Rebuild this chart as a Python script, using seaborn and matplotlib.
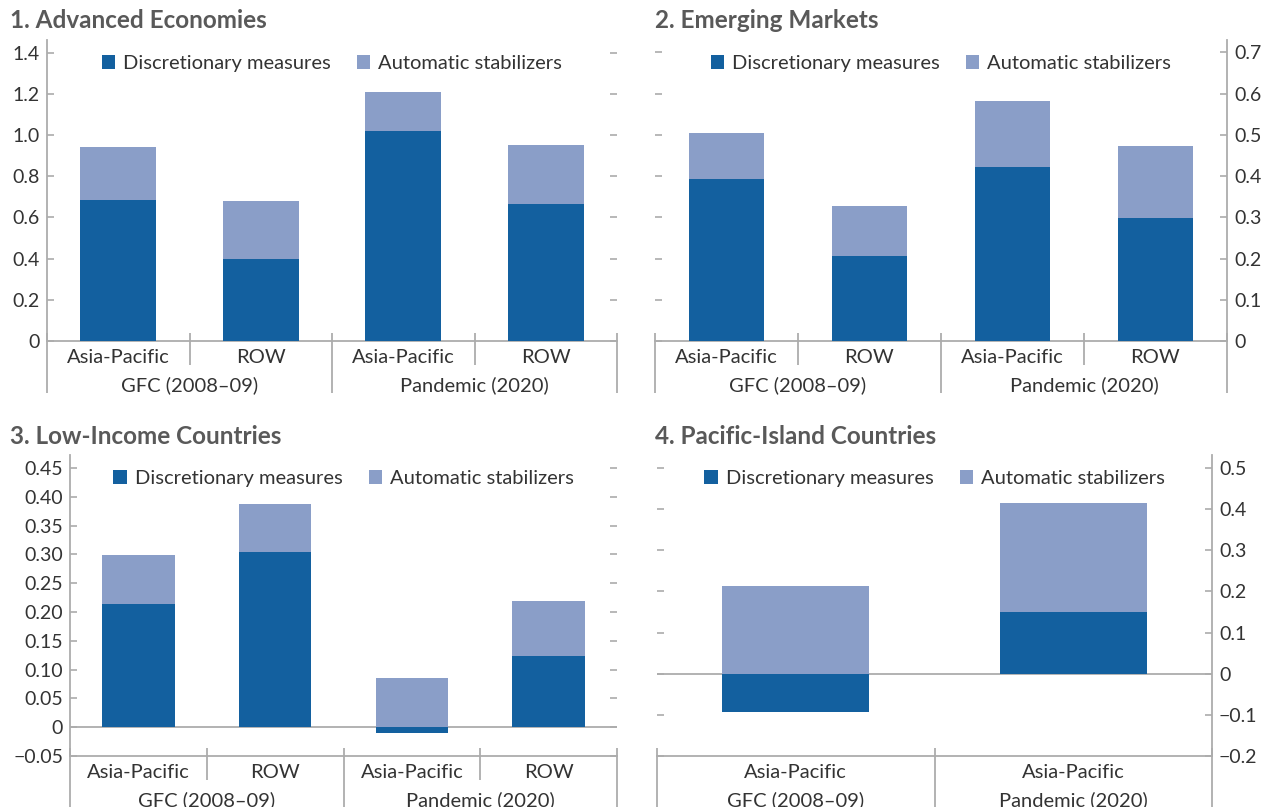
import numpy as np
import matplotlib
matplotlib.use("Agg")
import matplotlib.pyplot as plt
from matplotlib.patches import Patch
import seaborn as sns

# ---- data -----------------------------------------------------------------
titles = ["1. Advanced Economies", "2. Emerging Markets",
          "3. Low-Income Countries", "4. Pacific-Island Countries"]

regions_4 = ["Asia-Pacific", "ROW", "Asia-Pacific", "ROW"]
periods_4 = ["GFC (2008\u201309)", "GFC (2008\u201309)", "Pandemic (2020)", "Pandemic (2020)"]
regions_2 = ["Asia-Pacific", "Asia-Pacific"]
periods_2 = ["GFC (2008\u201309)", "Pandemic (2020)"]

ae_discretionary = [0.685, 0.40, 1.02, 0.665]
ae_automatic = [0.258, 0.28, 0.19, 0.287]

em_discretionary = [0.394, 0.207, 0.423, 0.299]
em_automatic = [0.110, 0.121, 0.158, 0.173]

lic_discretionary = [0.214, 0.304, -0.010, 0.123]
lic_automatic = [0.085, 0.083, 0.085, 0.096]

pic_discretionary = [-0.094, 0.149]
pic_automatic = [0.214, 0.266]

ae_ticks = [0, 0.2, 0.4, 0.6, 0.8, 1.0, 1.2, 1.4]
em_ticks = [0, 0.1, 0.2, 0.3, 0.4, 0.5, 0.6, 0.7]
lic_ticks = [-0.05, 0, 0.05, 0.10, 0.15, 0.20, 0.25, 0.30, 0.35, 0.40, 0.45]
pic_ticks = [-0.2, -0.1, 0, 0.1, 0.2, 0.3, 0.4, 0.5]

legend_labels = ["Discretionary measures", "Automatic stabilizers"]

# ---- style ----------------------------------------------------------------
sns.set_theme(style="white")
plt.rcParams["font.family"] = ["Lato", "DejaVu Sans"]

DARK = "#13609f"
LIGHT = "#8a9ec8"
SPINE = "#acacac"
TICKTXT = "#333333"
TITLE = "#595959"
FS_TICK = 14
FS_TEXT = 14.5
FS_TITLE = 17.5

W, H = 1270, 807
fig = plt.figure(figsize=(W / 100, H / 100), dpi=100)


def axes_px(left, right, bottom, top):
    ax = fig.add_axes([left / W, 1 - bottom / H, (right - left) / W, (bottom - top) / H])
    return ax, bottom - top


def fmt(v, nd):
    if abs(v) < 1e-12:
        return "0"
    s = f"{v:.{nd}f}"
    return s.replace("-", "\u2212")


def panel(ax, ax_h, disc, auto, regions, periods, ticks, nd, ylim,
          side, title, title_xy, short_seps):
    n = len(disc)
    keys = [f"{p}|{r}" for p, r in zip(periods, regions)]
    disc = np.asarray(disc)
    auto = np.asarray(auto)
    top = np.clip(disc, 0, None) + auto

    # light bars reach the top of the positive stack, dark bars sit over them
    sns.barplot(x=keys, y=top, color=LIGHT, saturation=1, width=0.53,
                linewidth=0, ax=ax, zorder=3)
    sns.barplot(x=keys, y=disc, color=DARK, saturation=1, width=0.53,
                linewidth=0, ax=ax, zorder=4)

    ax.set_xlim(-0.5, n - 0.5)
    ax.set_ylim(*ylim)
    ax.set_xlabel("")
    ax.set_ylabel("")

    for s in ax.spines.values():
        s.set_color(SPINE)
        s.set_linewidth(1.3)
    ax.spines["top"].set_visible(False)
    if side == "left":
        ax.spines["right"].set_visible(False)
    else:
        ax.spines["left"].set_visible(False)

    ax.set_yticks(ticks)
    ax.set_yticklabels([fmt(t, nd) for t in ticks])
    ax.tick_params(axis="y", direction="in", length=5, width=1.2, color=SPINE,
                   left=True, right=True,
                   labelleft=(side == "left"), labelright=(side == "right"),
                   labelsize=FS_TICK, labelcolor=TICKTXT, pad=5)
    ax.set_xticks(range(n))
    ax.set_xticklabels(regions)
    ax.tick_params(axis="x", length=0, pad=6, labelsize=FS_TEXT, labelcolor=TICKTXT)

    if ylim[0] < 0:
        ax.axhline(0, color=SPINE, lw=1.3, zorder=2)

    # group labels centred under each period
    uniq = []
    for p in periods:
        if p not in uniq:
            uniq.append(p)
    for p in uniq:
        idx = [i for i, q in enumerate(periods) if q == p]
        ax.annotate(p, xy=(np.mean(idx), 0), xycoords=("data", "axes fraction"),
                    xytext=(0, -44 * 0.72), textcoords="offset points",
                    ha="center", va="center", fontsize=FS_TEXT, color=TICKTXT,
                    annotation_clip=False)

    # separators between categories and periods below the axis
    tr = ax.get_xaxis_transform()
    bounds = np.arange(-0.5, n, 1.0)
    for b in bounds:
        is_short = any(abs(b - s) < 1e-9 for s in short_seps)
        y0 = 8 / ax_h
        y1 = (-24 if is_short else -52) / ax_h
        ax.plot([b, b], [y0, y1], transform=tr, color=SPINE, lw=1.3,
                clip_on=False, solid_capstyle="butt", zorder=1)

    handles = [Patch(facecolor=DARK, edgecolor="none"),
               Patch(facecolor=LIGHT, edgecolor="none")]
    ax.legend(handles, legend_labels, loc="upper center", bbox_to_anchor=(0.5, 1.0),
              ncol=2, frameon=False, fontsize=FS_TEXT, handlelength=0.65,
              handleheight=0.65, handletextpad=0.4, columnspacing=1.3,
              borderaxespad=0.35, labelcolor=TICKTXT)

    fig.text(title_xy[0] / W, 1 - title_xy[1] / H, title, fontsize=FS_TITLE,
             fontweight="bold", color=TITLE, ha="left", va="center")


ax1, h1 = axes_px(47, 617, 341, 40)
panel(ax1, h1, ae_discretionary, ae_automatic, regions_4, periods_4, ae_ticks, 1,
      (0, 1.462), "left", titles[0], (10, 20), [0.5, 2.5])

ax2, h2 = axes_px(655, 1227, 341, 40)
panel(ax2, h2, em_discretionary, em_automatic, regions_4, periods_4, em_ticks, 1,
      (0, 0.73), "right", titles[1], (655, 20), [0.5, 2.5])

ax3, h3 = axes_px(70, 617, 756, 455)
panel(ax3, h3, lic_discretionary, lic_automatic, regions_4, periods_4, lic_ticks, 2,
      (-0.05, 0.4726), "left", titles[2], (10, 436), [0.5, 2.5])

ax4, h4 = axes_px(657, 1212, 756, 455)
panel(ax4, h4, pic_discretionary, pic_automatic, regions_2, periods_2, pic_ticks, 1,
      (-0.2, 0.5316), "right", titles[3], (655, 436), [])

fig.savefig("out.png", dpi=100)
